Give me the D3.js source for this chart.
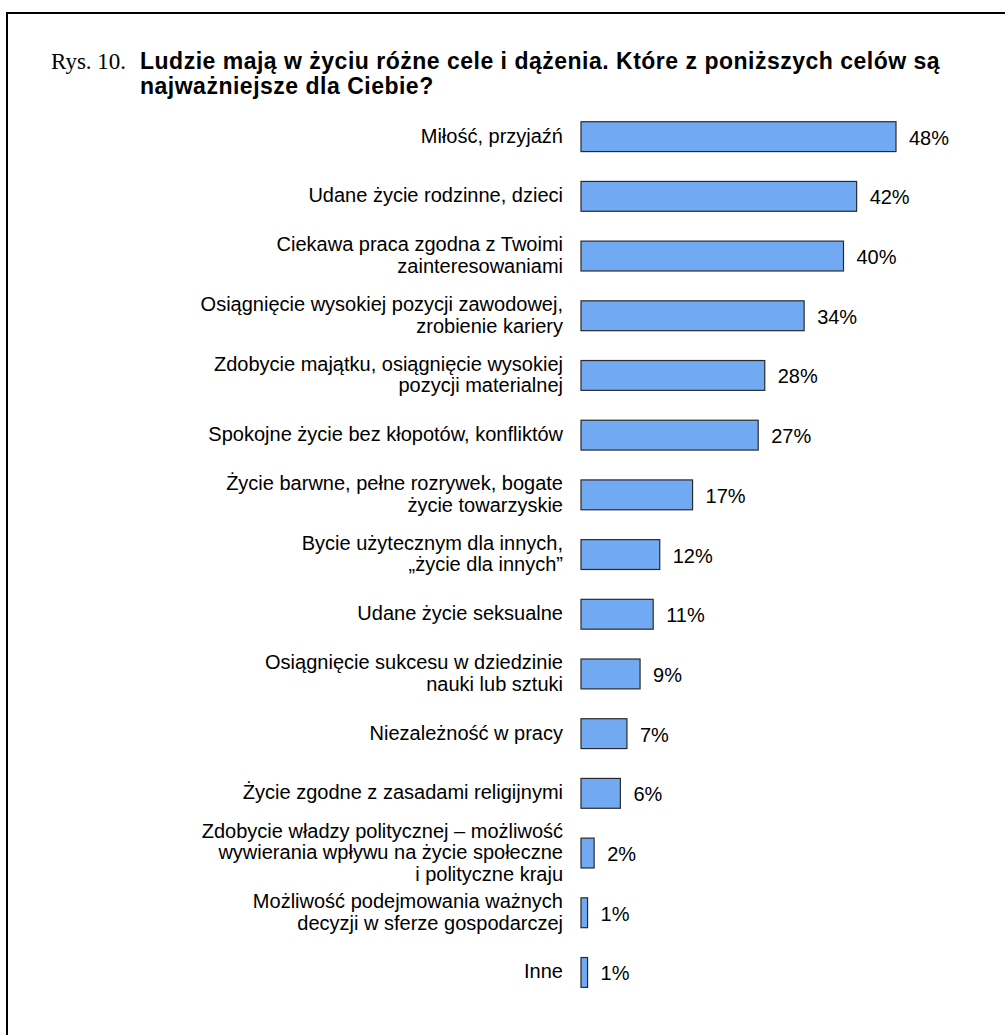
<!DOCTYPE html>
<html>
<head>
<meta charset="utf-8">
<script src="https://cdn.jsdelivr.net/npm/d3@7"></script>
<style>
  html, body { margin: 0; padding: 0; background: #fff; }
  svg { display: block; }
</style>
</head>
<body>
<svg id="chart" width="1005" height="1035"></svg>
<script>
// categories (lines of each label) and values in %
var categories = [
    ["Miłość, przyjaźń"],
    ["Udane życie rodzinne, dzieci"],
    ["Ciekawa praca zgodna z Twoimi", "zainteresowaniami"],
    ["Osiągnięcie wysokiej pozycji zawodowej,", "zrobienie kariery"],
    ["Zdobycie majątku, osiągnięcie wysokiej", "pozycji materialnej"],
    ["Spokojne życie bez kłopotów, konfliktów"],
    ["Życie barwne, pełne rozrywek, bogate", "życie towarzyskie"],
    ["Bycie użytecznym dla innych,", "„życie dla innych”"],
    ["Udane życie seksualne"],
    ["Osiągnięcie sukcesu w dziedzinie", "nauki lub sztuki"],
    ["Niezależność w pracy"],
    ["Życie zgodne z zasadami religijnymi"],
    ["Zdobycie władzy politycznej – możliwość", "wywierania wpływu na życie społeczne", "i polityczne kraju"],
    ["Możliwość podejmowania ważnych", "decyzji w sferze gospodarczej"],
    ["Inne"]
];
var values = [48, 42, 40, 34, 28, 27, 17, 12, 11, 9, 7, 6, 2, 1, 1];
var valueLabels = ["48%", "42%", "40%", "34%", "28%", "27%", "17%", "12%", "11%", "9%", "7%", "6%", "2%", "1%", "1%"];

var svg = d3.select('#chart');
var sans = "'Liberation Sans', Arial, sans-serif";

// frame (only top and left edges are inside the picture)
svg.append('rect')
    .attr('x', 7).attr('y', 13)
    .attr('width', 1010).attr('height', 1040)
    .attr('fill', 'none')
    .attr('stroke', '#000')
    .attr('stroke-width', 2);

// title
svg.append('text')
    .attr('x', 51).attr('y', 69)
    .style('font-family', "'Liberation Serif', 'Times New Roman', serif")
    .style('font-size', '23px')
    .text('Rys. 10.');

var title = svg.append('text')
    .attr('x', 140).attr('y', 69)
    .style('font-family', sans)
    .style('font-size', '23px')
    .style('letter-spacing', '0.5px')
    .style('font-weight', 'bold');
title.append('tspan').attr('x', 140).attr('dy', 0)
    .text('Ludzie mają w życiu różne cele i dążenia. Które z poniższych celów są');
title.append('tspan').attr('x', 140).attr('dy', 25)
    .text('najważniejsze dla Ciebie?');

var idx = d3.range(values.length);

var y = d3.scaleBand()
    .domain(idx)
    .range([106.8, 106.8 + 15 * 59.7])
    .paddingInner(0.5)
    .paddingOuter(0.25);

var x = d3.scaleLinear()
    .domain([0, 48])
    .range([581, 896]);

var rows = svg.selectAll('.row')
    .data(idx)
    .enter().append('g')
    .attr('class', 'row');

rows.append('rect')
    .attr('x', x(0))
    .attr('y', function(i) { return y(i); })
    .attr('width', function(i) { return x(values[i]) - x(0); })
    .attr('height', y.bandwidth())
    .attr('fill', '#72a9f3')
    .attr('stroke', '#2a2a2a')
    .attr('stroke-width', 1.2);

rows.append('text')
    .attr('x', function(i) { return x(values[i]) + 13; })
    .attr('y', function(i) { return y(i) + y.bandwidth() / 2 + 8; })
    .style('font-family', sans)
    .style('font-size', '20px')
    .text(function(i) { return valueLabels[i]; });

var lineH = 21.5;
rows.append('text')
    .attr('text-anchor', 'end')
    .style('font-family', sans)
    .style('font-size', '20px')
    .each(function(i) {
        var lines = categories[i];
        var cy = y(i) + y.bandwidth() / 2;
        var first = cy - (lines.length - 1) * lineH / 2 + 6;
        var t = d3.select(this);
        lines.forEach(function(l, k) {
            t.append('tspan')
                .attr('x', 563)
                .attr('y', first + k * lineH)
                .text(l);
        });
    });
</script>
</body>
</html>
